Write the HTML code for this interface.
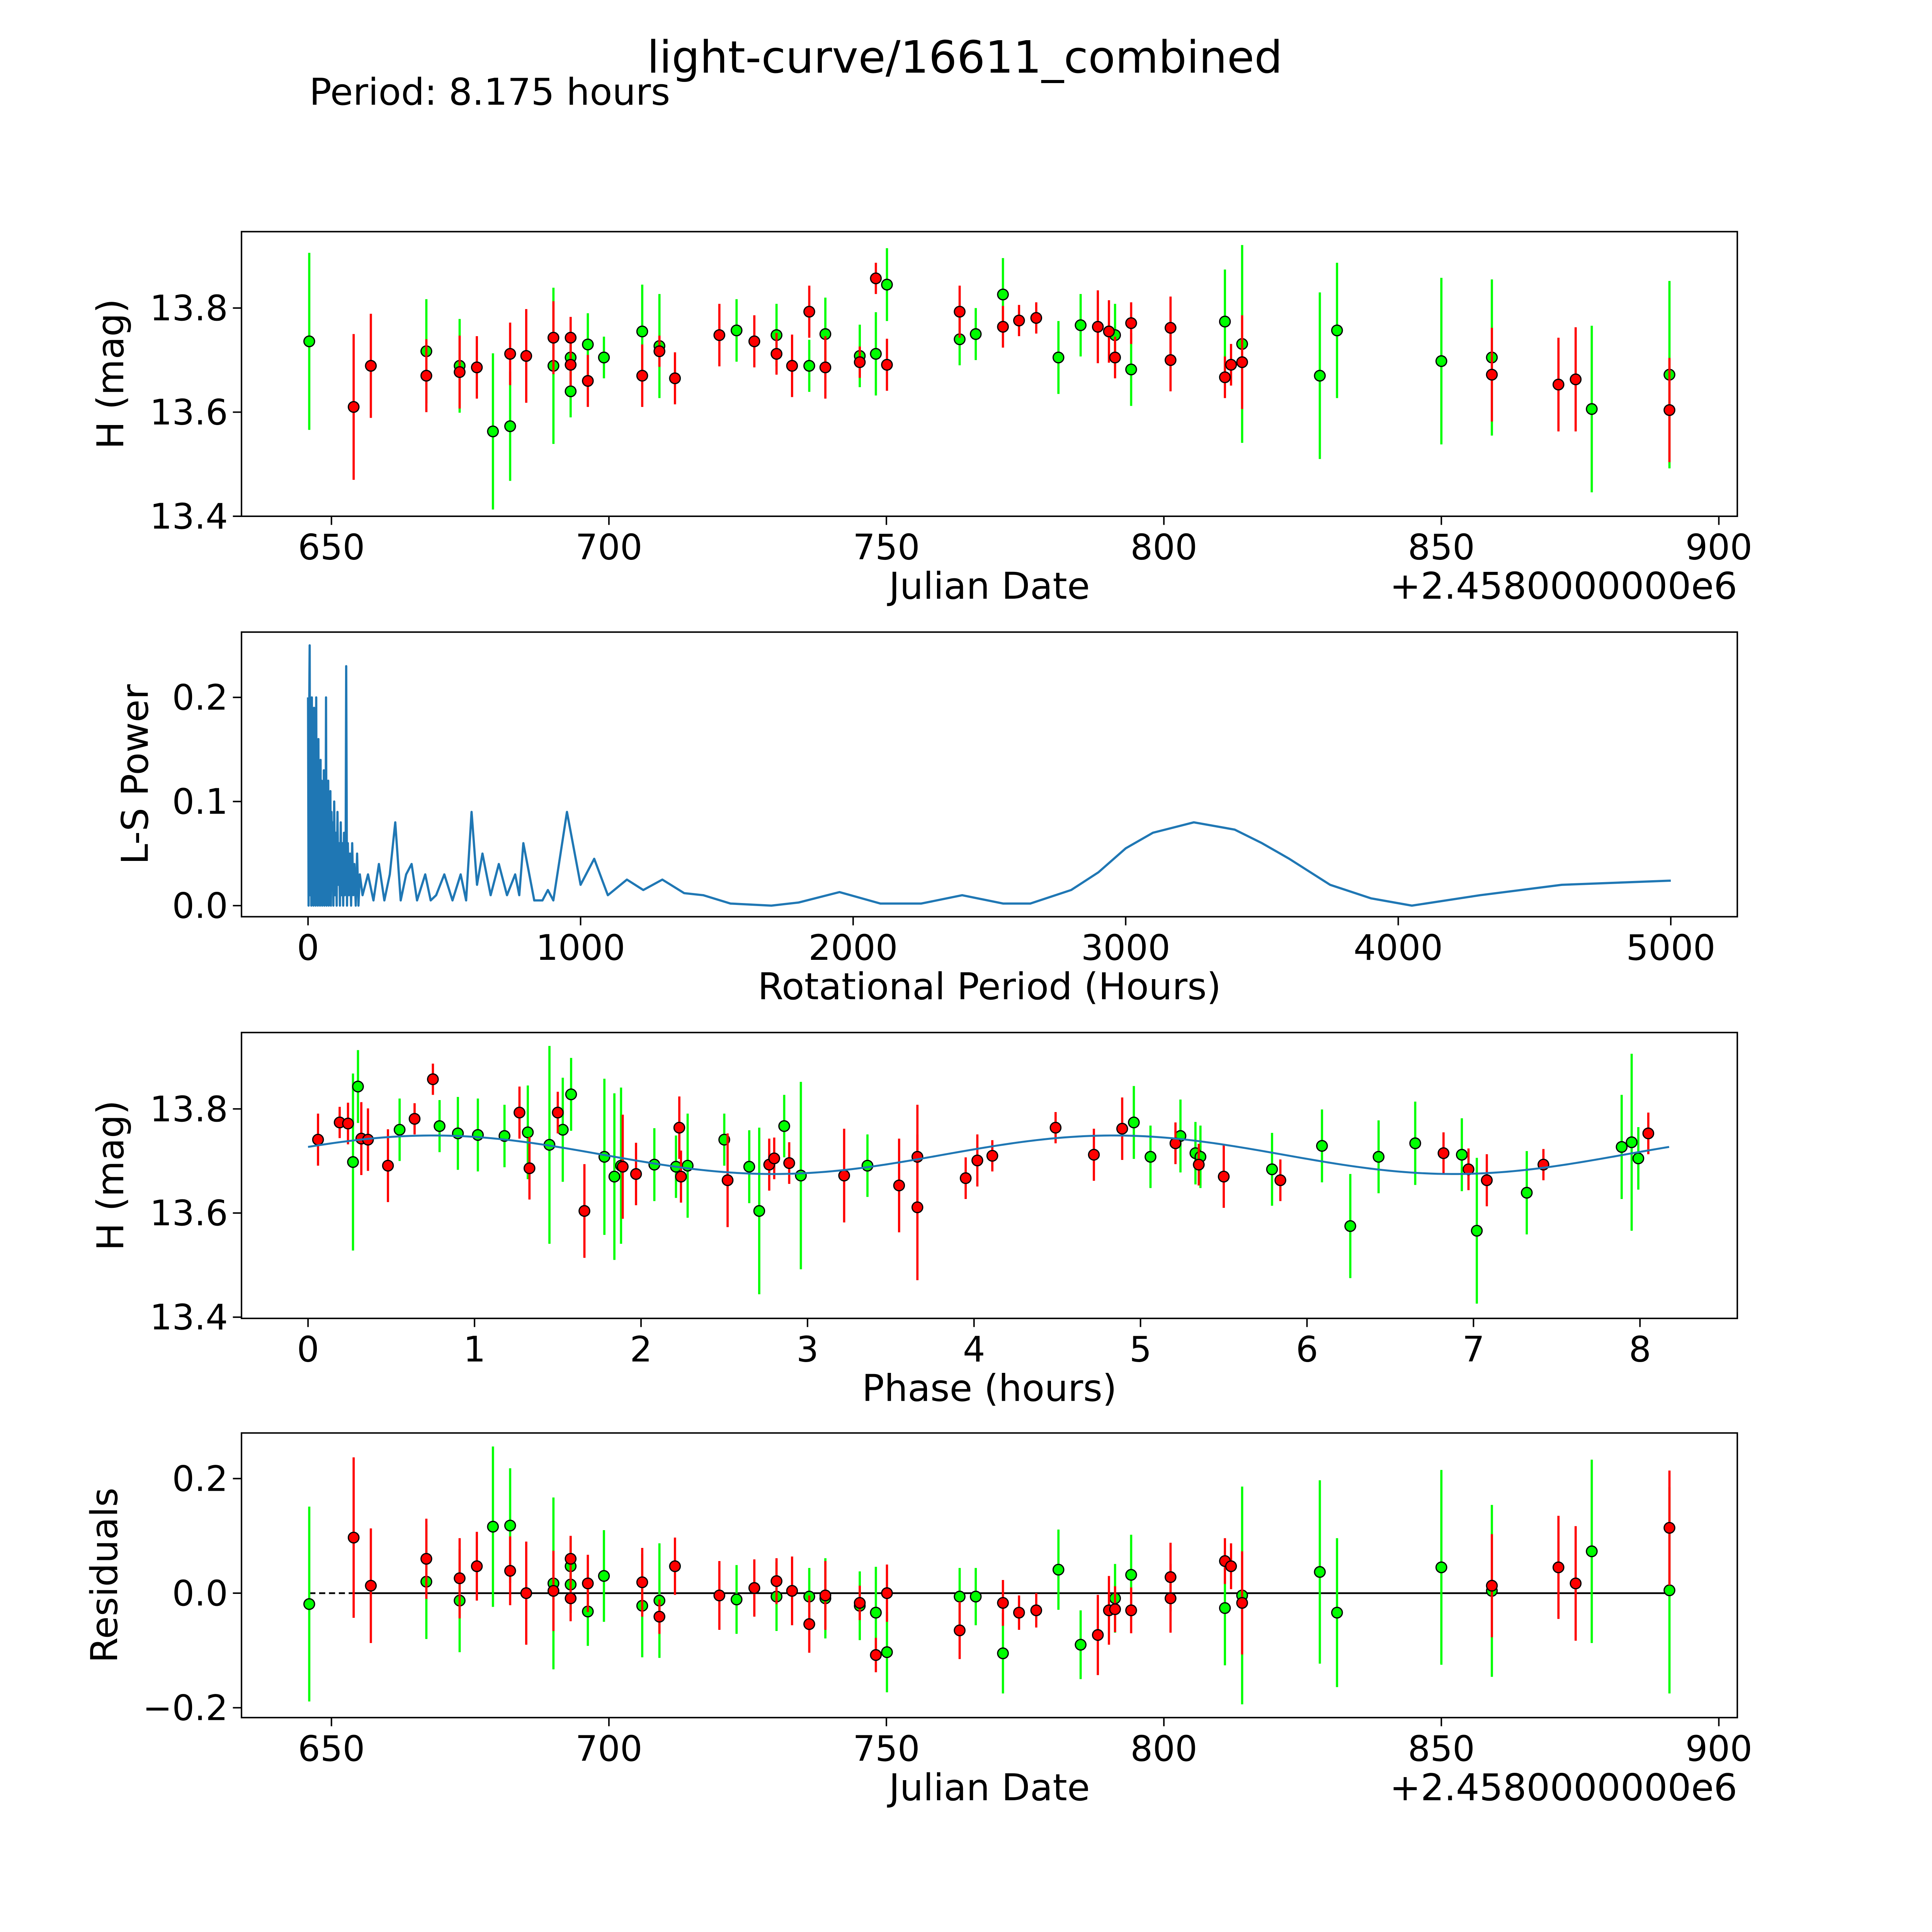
<!DOCTYPE html>
<html><head><meta charset="utf-8"><style>
html,body{margin:0;padding:0;background:#fff;overflow:hidden;width:100vw;height:100vh;}
svg{display:block;width:100vw;height:100vh;font-family:"DejaVu Sans","Liberation Sans",sans-serif;}
</style></head><body>
<svg id="fig" xmlns="http://www.w3.org/2000/svg" viewBox="0 0 1568 1568" preserveAspectRatio="xMinYMin meet">
<rect width="1568" height="1568" fill="#fff"/>
<text x="783" y="59" font-size="36" text-anchor="middle">light-curve/16611_combined</text>
<text x="251" y="85" font-size="30">Period: 8.175 hours</text>
</svg>
<script>
// ---- Panel 1: raw light curve (JD - 2458000) ----
const gDate=[646.0,667.1,673.1,679.1,682.2,690.0,693.1,693.1,696.2,699.1,706.0,709.1,723.0,730.2,736.1,739.0,745.2,748.1,750.1,763.2,766.1,771.0,781.0,785.0,791.2,794.1,811.0,814.1,828.1,831.2,850.0,859.1,877.1,891.1];
const gMag=[13.736,13.717,13.689,13.563,13.573,13.689,13.705,13.640,13.730,13.705,13.755,13.727,13.757,13.748,13.689,13.750,13.708,13.712,13.845,13.740,13.750,13.826,13.705,13.767,13.748,13.682,13.774,13.731,13.670,13.757,13.698,13.705,13.606,13.672];
const gErr=[0.17,0.10,0.09,0.15,0.105,0.15,0.05,0.05,0.06,0.04,0.09,0.10,0.06,0.06,0.05,0.07,0.06,0.08,0.07,0.05,0.05,0.07,0.07,0.06,0.06,0.07,0.10,0.19,0.16,0.13,0.16,0.15,0.16,0.18];
const rDate=[654.0,657.1,667.1,673.1,676.2,682.2,685.1,690.0,693.1,693.1,696.2,706.0,709.1,711.9,719.9,726.2,730.2,733.0,736.1,739.0,745.2,748.1,750.1,763.2,771.0,773.9,777.0,788.1,790.1,791.2,794.1,801.2,801.2,811.0,812.1,814.1,859.1,871.1,874.2,891.1];
const rMag=[13.610,13.689,13.670,13.677,13.686,13.712,13.708,13.743,13.743,13.691,13.660,13.670,13.717,13.665,13.748,13.736,13.712,13.689,13.793,13.686,13.696,13.857,13.691,13.793,13.764,13.776,13.781,13.764,13.755,13.705,13.771,13.762,13.700,13.667,13.691,13.696,13.672,13.653,13.663,13.604];
const rErr=[0.14,0.10,0.07,0.07,0.06,0.06,0.09,0.07,0.04,0.04,0.05,0.06,0.03,0.05,0.06,0.05,0.04,0.06,0.05,0.06,0.03,0.03,0.05,0.05,0.04,0.03,0.03,0.07,0.06,0.04,0.04,0.06,0.06,0.04,0.04,0.09,0.09,0.09,0.10,0.10];
// ---- Panel 2: Lomb-Scargle periodogram ----
const lsPeriod=[0,2,4,6,8,10,12,14,16,18,20,22,24,26,28,30,32,34,36,38,40,42,44,46,48,50,52,54,56,58,60,62,64,66,68,70,72,74,76,78,80,82,84,86,88,90,93,96,99,102,105,108,111,114,117,120,123,126,129,132,135,138,140,143,146,150,154,158,162,166,170,175,180,185,190,200,220,240,260,280,300,320,340,360,380,400,430,450,470,500,530,560,580,600,620,640,670,700,730,760,775,790,830,860,880,900,950,1000,1050,1100,1170,1230,1300,1380,1450,1550,1700,1800,1950,2100,2250,2400,2550,2650,2800,2900,3000,3100,3250,3400,3500,3600,3750,3900,4050,4300,4600,5000];
const lsPower=[0.2,0.0,0.18,0.25,0.01,0.19,0.0,0.2,0.02,0.17,0.0,0.19,0.03,0.15,0.0,0.2,0.01,0.12,0.0,0.16,0.02,0.1,0.0,0.14,0.01,0.12,0.0,0.11,0.02,0.13,0.0,0.09,0.01,0.2,0.0,0.1,0.02,0.12,0.0,0.08,0.01,0.11,0.0,0.09,0.02,0.08,0.0,0.1,0.01,0.07,0.0,0.09,0.02,0.06,0.0,0.08,0.01,0.06,0.0,0.07,0.01,0.05,0.23,0.0,0.06,0.01,0.05,0.0,0.06,0.01,0.04,0.0,0.05,0.0,0.03,0.01,0.03,0.005,0.04,0.005,0.03,0.08,0.005,0.03,0.04,0.005,0.03,0.005,0.01,0.03,0.005,0.03,0.005,0.09,0.02,0.05,0.01,0.04,0.01,0.03,0.01,0.06,0.005,0.005,0.015,0.005,0.09,0.02,0.045,0.01,0.025,0.015,0.025,0.012,0.01,0.002,0.0,0.003,0.013,0.002,0.002,0.01,0.002,0.002,0.015,0.032,0.055,0.07,0.08,0.073,0.06,0.045,0.02,0.007,0.0,0.01,0.02,0.024];
// ---- Panel 3: phased light curve ----
const rPhase=[0.06,0.19,0.24,0.32,0.36,0.48,0.64,0.75,1.27,1.33,1.50,1.66,1.89,1.97,2.23,2.24,2.52,2.77,2.80,2.89,3.22,3.55,3.66,3.66,3.95,4.02,4.11,4.49,4.72,4.89,5.21,5.35,5.50,5.84,6.82,6.97,7.08,7.42,8.05];
const rPMag=[13.741,13.774,13.772,13.743,13.741,13.691,13.781,13.857,13.793,13.686,13.793,13.604,13.689,13.675,13.764,13.670,13.663,13.693,13.705,13.696,13.672,13.653,13.708,13.611,13.667,13.701,13.710,13.764,13.712,13.762,13.734,13.693,13.670,13.663,13.715,13.684,13.663,13.693,13.753];
const rPErr=[0.05,0.03,0.04,0.07,0.06,0.07,0.03,0.03,0.05,0.06,0.04,0.09,0.1,0.06,0.06,0.05,0.09,0.05,0.04,0.04,0.09,0.09,0.1,0.14,0.04,0.05,0.03,0.03,0.05,0.06,0.04,0.04,0.06,0.04,0.04,0.04,0.05,0.03,0.04];
const gPhase=[0.27,0.30,0.55,0.79,0.90,1.02,1.18,1.32,1.45,1.53,1.58,1.78,1.84,1.88,2.08,2.21,2.28,2.50,2.65,2.71,2.86,2.96,3.36,4.96,5.06,5.24,5.33,5.36,5.79,6.09,6.26,6.43,6.65,6.93,7.02,7.32,7.89,7.95,7.99];
const gPMag=[13.698,13.843,13.760,13.767,13.753,13.750,13.748,13.755,13.731,13.760,13.828,13.708,13.670,13.691,13.693,13.689,13.691,13.741,13.689,13.604,13.767,13.672,13.691,13.774,13.708,13.748,13.715,13.708,13.684,13.729,13.575,13.708,13.734,13.712,13.566,13.639,13.727,13.736,13.705];
const gPErr=[0.17,0.07,0.06,0.05,0.07,0.07,0.06,0.09,0.19,0.1,0.07,0.15,0.16,0.15,0.07,0.06,0.1,0.05,0.07,0.16,0.06,0.18,0.06,0.07,0.06,0.07,0.06,0.06,0.07,0.07,0.1,0.07,0.08,0.07,0.14,0.08,0.1,0.17,0.06];
const fitCoef=[13.712,0.037,0.75]; // mean, amplitude, peak phase (double-peaked)
const fitPeriod=[8.175];
// ---- Panel 4: residuals ----
const gRes=[-0.019,0.020,-0.013,0.116,0.118,0.017,0.015,0.047,-0.032,0.030,-0.022,-0.013,-0.011,-0.006,-0.006,-0.009,-0.022,-0.034,-0.103,-0.006,-0.006,-0.105,0.041,-0.090,-0.009,0.032,-0.026,-0.004,0.037,-0.034,0.045,0.004,0.073,0.005];
const gResDate=[646.0,667.1,673.1,679.1,682.2,690.0,693.1,693.1,696.2,699.1,706.0,709.1,723.0,730.2,736.1,739.0,745.2,748.1,750.1,763.2,766.1,771.0,781.0,785.0,791.2,794.1,811.0,814.1,828.1,831.2,850.0,859.1,877.1,891.1];
const gResErr=[0.17,0.1,0.09,0.14,0.1,0.15,0.05,0.05,0.06,0.08,0.09,0.1,0.06,0.06,0.05,0.07,0.06,0.08,0.07,0.05,0.05,0.07,0.07,0.06,0.06,0.07,0.1,0.19,0.16,0.13,0.17,0.15,0.16,0.18];
const rRes=[0.097,0.013,0.060,0.026,0.047,0.039,0.0,0.004,0.060,-0.009,0.017,0.019,-0.041,0.047,-0.004,0.009,0.021,0.004,-0.054,-0.004,-0.017,-0.108,0.0,-0.065,-0.017,-0.034,-0.030,-0.073,-0.030,-0.028,-0.030,0.028,-0.009,0.056,0.047,-0.017,0.013,0.045,0.017,0.114];

const NS='http://www.w3.org/2000/svg';
const svg=document.getElementById('fig');
function mk(tag,attrs,parent){const e=document.createElementNS(NS,tag);for(const k in attrs)e.setAttribute(k,attrs[k]);(parent||svg).appendChild(e);return e;}
function lin(d0,d1,p0,p1){return v=>p0+(v-d0)*(p1-p0)/(d1-d0);}

const L=196,R=1410;
const panels=[{t:188,b:419},{t:513,b:744},{t:838,b:1070},{t:1163,b:1394}];
const xJD=lin(650,900,269,1395);
const xLS=lin(0,5000,250,1356);
const xPh=lin(0,8,250,1331);
const y1=lin(13.4,13.8,419,250);
const y2=lin(0,0.2,735,566);
const y3=lin(13.4,13.8,1069,900);
const y4=lin(0,0.2,1293,1200);
const TF=28.5, LF=30;

function axes(i,name,xs,xt,yt,xs2,ys,xl,yl,ylx,offset){
  const p=panels[i];
  const g=mk('g',{});
  
  
  xt.forEach(v=>{const x=xs(v);mk('line',{x1:x,x2:x,y1:p.b,y2:p.b+7,stroke:'#000','stroke-width':1.2},g);
    const t=mk('text',{x:x,y:p.b+35,'font-size':TF,'text-anchor':'middle'},g);t.textContent=xs2(v);});
  yt.forEach(v=>{const y=ys(v);mk('line',{x1:L-7,x2:L,y1:y,y2:y,stroke:'#000','stroke-width':1.2},g);
    const t=mk('text',{x:L-11,y:y+10,'font-size':TF,'text-anchor':'end'},g);t.textContent=(v<0?'\u2212':'')+Math.abs(v).toFixed(1);});
  const xlab=mk('text',{x:(L+R)/2,y:p.b+67,'font-size':LF,'text-anchor':'middle'},g);xlab.textContent=xl;
  
  
  const yc=(p.t+p.b)/2;
  const ylab=mk('text',{x:ylx,y:yc,'font-size':LF,'text-anchor':'middle',transform:`rotate(-90 ${ylx} ${yc})`},g);ylab.textContent=yl;
  
  
  if(offset){const o=mk('text',{x:R,y:p.b+67,'font-size':LF,'text-anchor':'end'},g);o.textContent='+2.4580000000e6';
    
    }
  return g;
}
function frame(i){const p=panels[i];const f=mk('rect',{x:L,y:p.t,width:R-L,height:p.b-p.t,fill:'none',stroke:'#000','stroke-width':1.2});
  
  }
function points(xs,ys,X,Y,E,col,name){
  const g=mk('g',{});
  
  
  X.forEach((xv,k)=>{const x=xs(xv);
    const bar=mk('line',{x1:x,x2:x,y1:ys(Y[k]-E[k]),y2:ys(Y[k]+E[k]),stroke:col==='r'?'#ff0000':'#00ff00','stroke-width':1.8},g);
    
    });
  X.forEach((xv,k)=>{const c=mk('circle',{cx:xs(xv),cy:ys(Y[k]),r:4.3,fill:col==='r'?'#ff0000':'#00ff00',stroke:'#000','stroke-width':1},g);
    
    });
}
const f1=v=>String(v);
// Panel 1
axes(0,'raw-light-curve-axes',xJD,[650,700,750,800,850,900],[13.4,13.6,13.8],f1,y1,'Julian Date','H (mag)',100,true);
points(xJD,y1,gDate,gMag,gErr,'g','green-series');
points(xJD,y1,rDate,rMag,rErr,'r','red-series');
frame(0);
// Panel 2
axes(1,'periodogram-axes',xLS,[0,1000,2000,3000,4000,5000],[0,0.1,0.2],f1,y2,'Rotational Period (Hours)','L-S Power',120,false);
const ls=mk('polyline',{points:lsPeriod.map((v,k)=>xLS(v)+','+y2(lsPower[k])).join(' '),fill:'none',stroke:'#1f77b4','stroke-width':1.8,'stroke-linejoin':'round'});


frame(1);
// Panel 3
axes(2,'phased-curve-axes',xPh,[0,1,2,3,4,5,6,7,8],[13.4,13.6,13.8],f1,y3,'Phase (hours)','H (mag)',100,false);
points(xPh,y3,gPhase,gPMag,gPErr,'g','phased-green-series');
points(xPh,y3,rPhase,rPMag,rPErr,'r','phased-red-series');
const fp=[];for(let s=0;s<=200;s++){const ph=fitPeriod[0]*s/200;fp.push(xPh(ph)+','+y3(fitCoef[0]+fitCoef[1]*Math.cos(4*Math.PI*(ph-fitCoef[2])/fitPeriod[0])));}
const fit=mk('polyline',{points:fp.join(' '),fill:'none',stroke:'#1f77b4','stroke-width':1.6});


frame(2);
// Panel 4
axes(3,'residuals-axes',xJD,[650,700,750,800,850,900],[-0.2,0,0.2],f1,y4,'Julian Date','Residuals',95,true);
const zd=mk('line',{x1:xJD(646),x2:xJD(654),y1:y4(0),y2:y4(0),stroke:'#000','stroke-width':1.4,'stroke-dasharray':'5 3'});


const z=mk('line',{x1:xJD(654),x2:xJD(891.1),y1:y4(0),y2:y4(0),stroke:'#000','stroke-width':1.4});


points(xJD,y4,gResDate,gRes,gResErr,'g','residual-green-series');
points(xJD,y4,rDate,rRes,rErr,'r','residual-red-series');
frame(3);
</script>
</body></html>
